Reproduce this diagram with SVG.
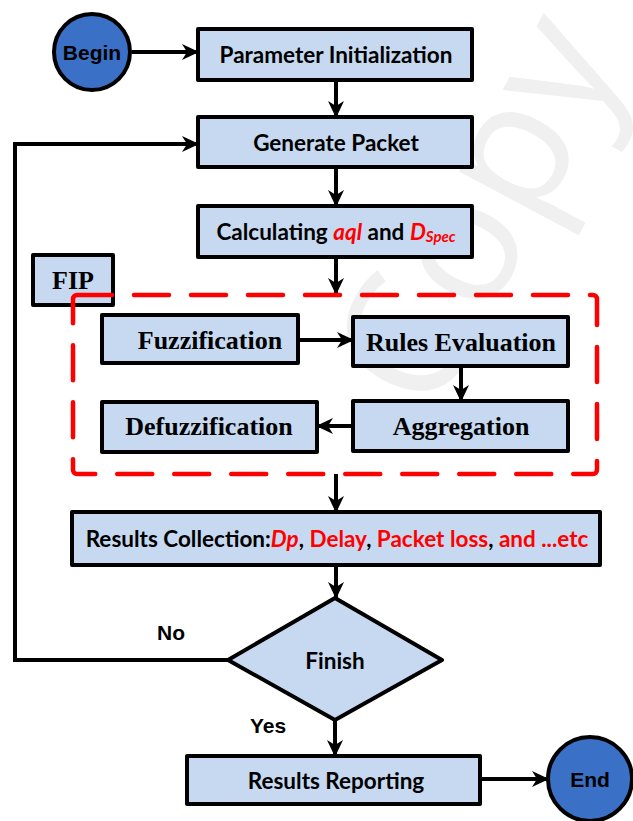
<svg xmlns="http://www.w3.org/2000/svg" width="633" height="821" viewBox="0 0 633 821">
<defs>
<marker id="arr" markerUnits="userSpaceOnUse" markerWidth="18" markerHeight="18" viewBox="0 0 18 18" refX="16" refY="9" orient="auto">
<path d="M0,1 L17,9 L0,17 L5,9 Z" fill="#000"/>
</marker>
<style>
.box{fill:#c6d9f0;stroke:#000;stroke-width:4;stroke-linejoin:round}
.circ{fill:#3a71c6;stroke:#000;stroke-width:4}
.ln{fill:none;stroke:#000;stroke-width:4}
.t{font-family:Lato,"Open Sans","Liberation Sans",sans-serif;font-weight:bold;font-size:22.5px;fill:#000;text-anchor:middle;dominant-baseline:central}
.tr{font-family:"Liberation Serif","Times New Roman",serif;font-weight:bold;font-size:26px;fill:#000;text-anchor:middle;dominant-baseline:central}
.ta{font-family:"Liberation Sans",Arial,sans-serif;font-weight:bold;font-size:21px;fill:#000;text-anchor:middle;dominant-baseline:central}
.red{fill:#ff0000}
.it{font-style:italic}
</style>
</defs>
<text x="0" y="0" transform="translate(530,238) rotate(-62)" text-anchor="middle" font-family="Open Sans,Liberation Sans,sans-serif" font-size="175" fill="#f0f0f0">Copy</text>
<g id="connectors">
<line class="ln" x1="132" y1="52" x2="198" y2="52" marker-end="url(#arr)"/>
<line class="ln" x1="336" y1="80" x2="336" y2="117" marker-end="url(#arr)"/>
<line class="ln" x1="336" y1="167" x2="336" y2="206" marker-end="url(#arr)"/>
<line class="ln" x1="336" y1="257" x2="336" y2="294" marker-end="url(#arr)"/>
<line class="ln" x1="298" y1="340" x2="353" y2="340" marker-end="url(#arr)"/>
<line class="ln" x1="461" y1="366" x2="461" y2="401" marker-end="url(#arr)"/>
<line class="ln" x1="353" y1="426" x2="317" y2="426" marker-end="url(#arr)"/>
<line class="ln" x1="336" y1="474" x2="336" y2="512" marker-end="url(#arr)"/>
<line class="ln" x1="336" y1="565" x2="336" y2="598" marker-end="url(#arr)"/>
<polyline class="ln" points="228,660 15,660 15,144 198,144" marker-end="url(#arr)"/>
<line class="ln" x1="335" y1="720" x2="335" y2="756" marker-end="url(#arr)"/>
<line class="ln" x1="480" y1="779" x2="548" y2="779" marker-end="url(#arr)"/>
</g>
<g id="begin"><circle class="circ" cx="92" cy="52" r="38"/><text class="ta" x="92" y="52" font-size="19">Begin</text></g>
<g id="param-init"><rect class="box" x="198" y="29" width="274" height="51"/><text class="t" x="336" y="54">Parameter Initialization</text></g>
<g id="generate-packet"><rect class="box" x="198" y="117" width="274" height="50"/><text class="t" x="336" y="142">Generate Packet</text></g>
<g id="calculating"><rect class="box" x="198" y="206" width="274" height="51"/><text class="t" x="336" y="231">Calculating <tspan class="red it">aql</tspan> and <tspan class="red it">D</tspan><tspan class="red it" font-size="15" dy="5">Spec</tspan></text></g>
<g id="fip"><rect class="box" x="33" y="255" width="80" height="50"/><text class="tr" x="73" y="280" font-size="25">FIP</text></g>
<g id="fip-region"><rect x="73" y="295" width="524" height="179" rx="4" fill="none" stroke="#ff0000" stroke-width="4.5" stroke-dasharray="35,22" stroke-linecap="round"/></g>
<g id="fuzzification"><rect class="box" x="102" y="315" width="196" height="48"/><text class="tr" x="210" y="340">Fuzzification</text></g>
<g id="rules-evaluation"><rect class="box" x="353" y="317" width="215" height="49"/><text class="tr" x="461" y="342">Rules Evaluation</text></g>
<g id="aggregation"><rect class="box" x="353" y="401" width="215" height="50"/><text class="tr" x="461" y="426">Aggregation</text></g>
<g id="defuzzification"><rect class="box" x="102" y="402" width="215" height="50"/><text class="tr" x="209" y="426">Defuzzification</text></g>
<g id="results-collection"><rect class="box" x="72" y="512" width="528" height="53"/><text class="t" x="337" y="538">Results Collection:<tspan class="red it">Dp</tspan>, <tspan class="red">Delay</tspan>, <tspan class="red">Packet loss</tspan>, <tspan class="red">and ...etc</tspan></text></g>
<g id="finish"><polygon class="box" points="335,598 442,660 335,720 228,660"/><text class="t" x="335" y="660" font-size="20">Finish</text></g>
<g id="labels"><text class="ta" x="171" y="632" font-size="24">No</text><text class="ta" x="268" y="725" font-size="24">Yes</text></g>
<g id="results-reporting"><rect class="box" x="187" y="756" width="293" height="48"/><text class="t" x="336" y="780">Results Reporting</text></g>
<g id="end"><circle class="circ" cx="590" cy="779" r="42"/><text class="ta" x="590" y="779" font-size="19">End</text></g>
</svg>
